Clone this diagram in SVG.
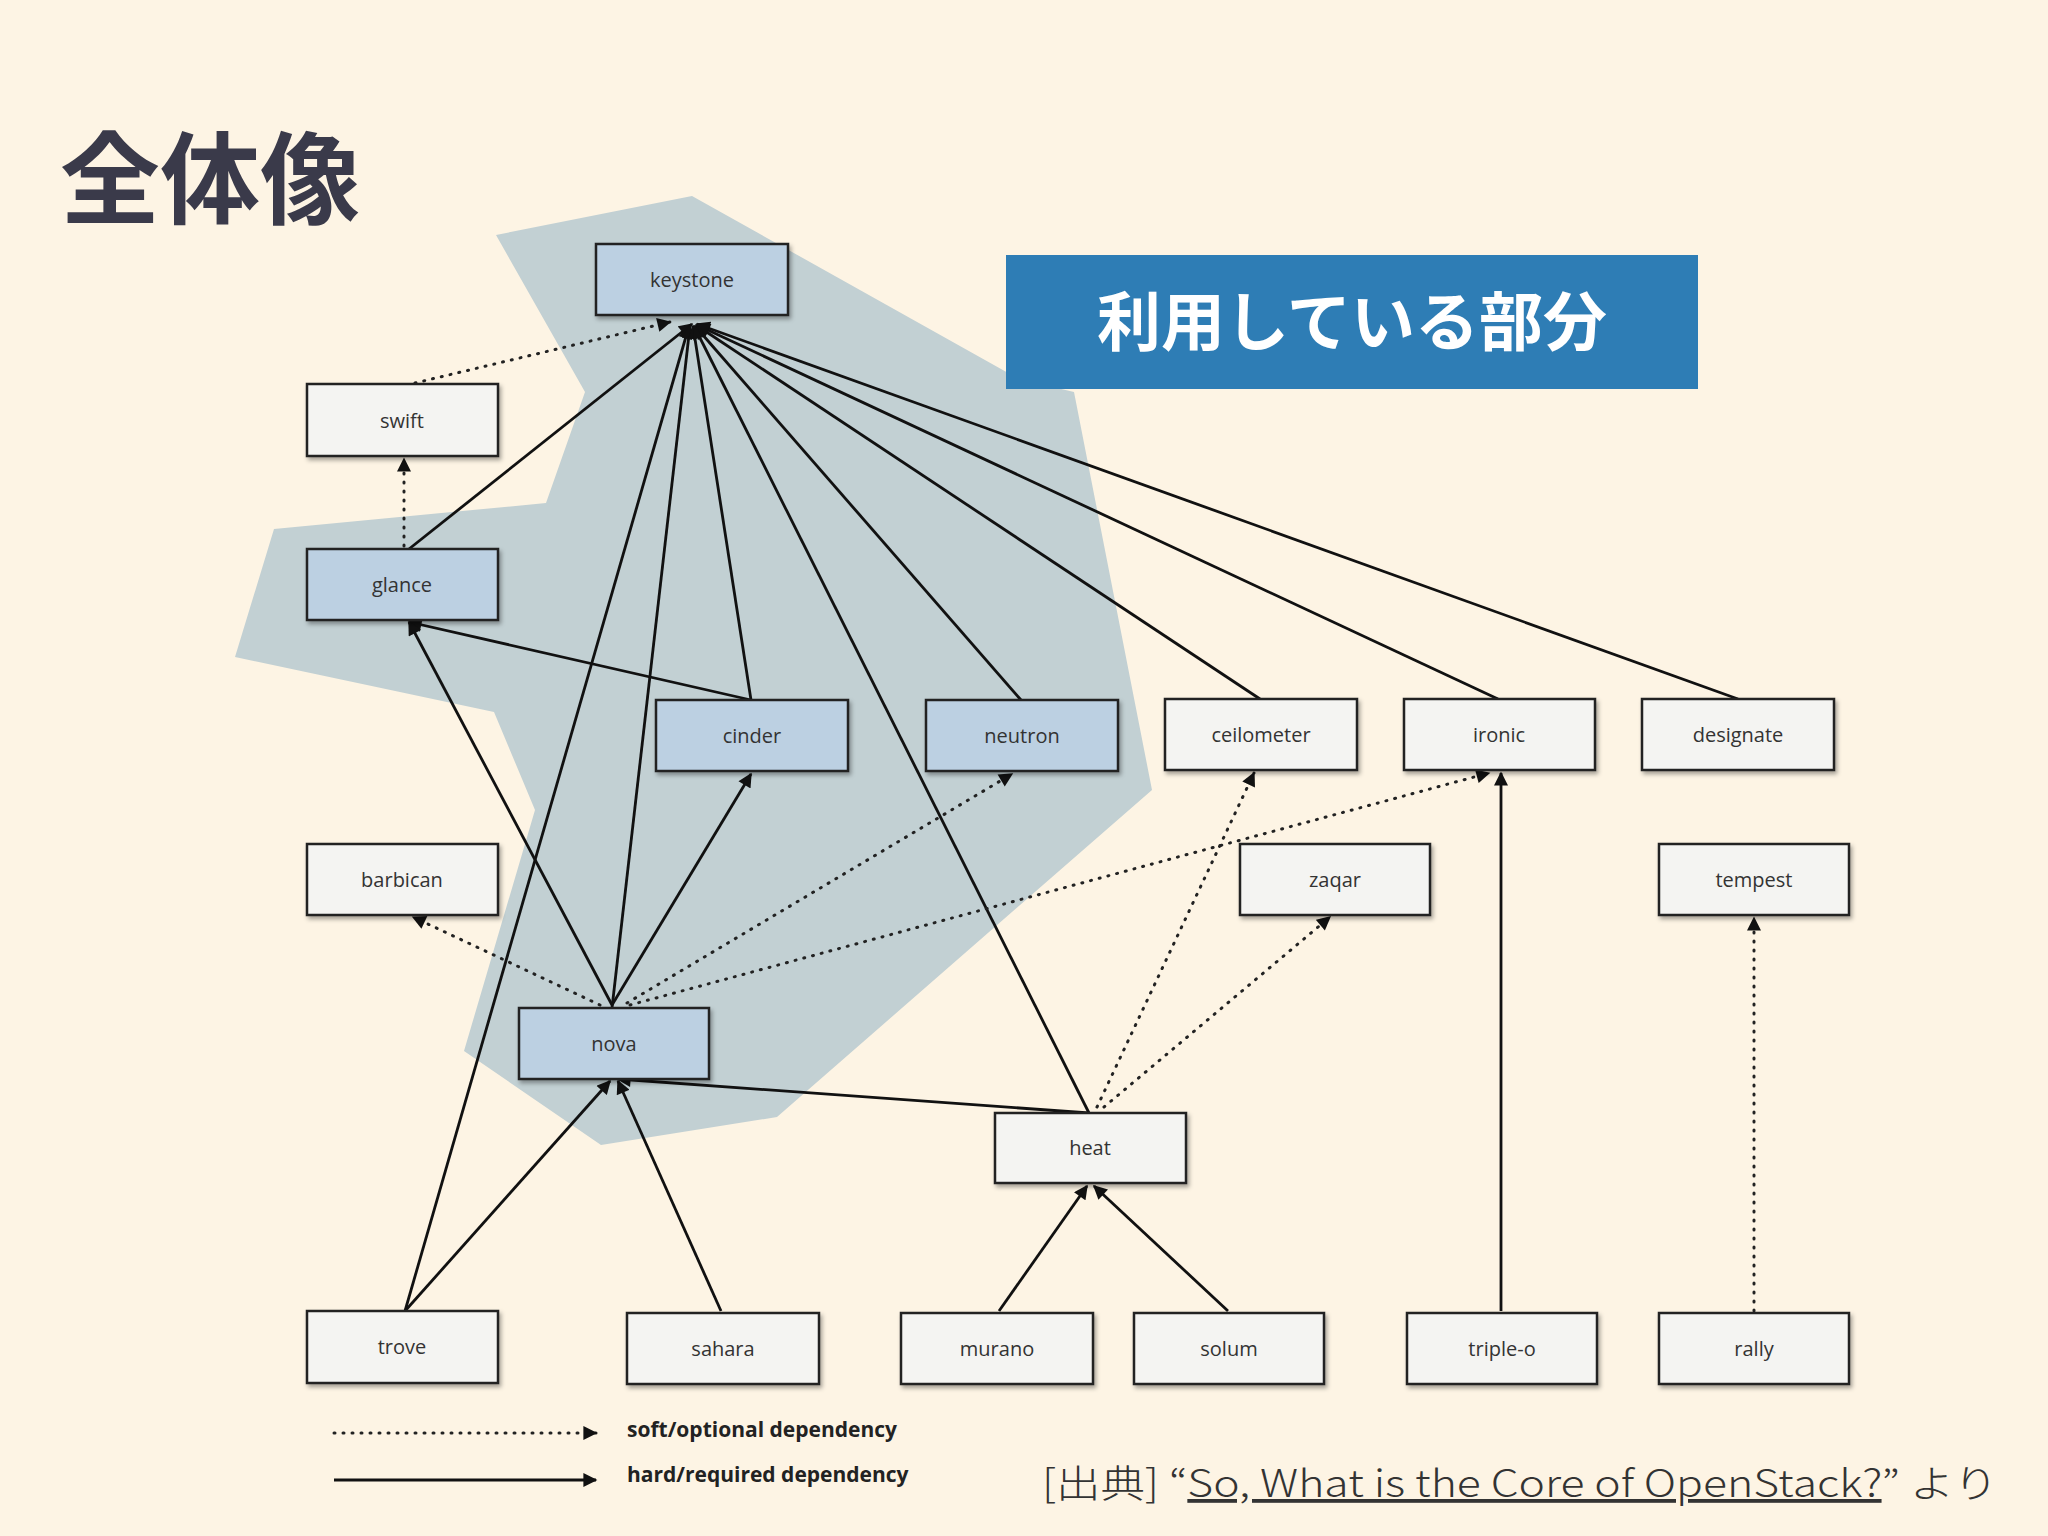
<svg xmlns="http://www.w3.org/2000/svg" width="2048" height="1536" viewBox="0 0 2048 1536">
<defs>
<marker id="ah" viewBox="0 0 10 10" refX="9" refY="5" markerWidth="15" markerHeight="14" markerUnits="userSpaceOnUse" orient="auto"><path d="M0,0 L10,5 L0,10 z" fill="#111"/></marker>
<filter id="sh" x="-10%" y="-10%" width="130%" height="140%"><feDropShadow dx="2" dy="3" stdDeviation="2" flood-opacity="0.35"/></filter>
</defs>
<style>
.n rect{fill:#f4f4f2;stroke:#222;stroke-width:2.5;filter:url(#sh)}
.n.s rect{fill:#bcd0e2}
.n text{font-family:"Open Sans","DejaVu Sans",sans-serif;font-size:20px;fill:#333;text-anchor:middle}
.h{stroke:#111;stroke-width:2.8;fill:none;marker-end:url(#ah)}
.d{stroke:#222;stroke-width:3;stroke-dasharray:1 8;stroke-linecap:round;fill:none;marker-end:url(#ah)}
</style>
<rect width="2048" height="1536" fill="#fdf4e4"/>
<polygon points="496,235 692,196 1019,379 1074,392 1152,790 777,1117 601,1145 464,1051 535,810 494,712 235,657 274,529 546,503 585,392" fill="#c2d0d3"/>
<text x="60" y="216" font-family="Noto Sans CJK JP, sans-serif" font-weight="bold" font-size="100" fill="#3a3a4a">全体像</text>
<g id="banner"><rect x="1006" y="255" width="692" height="134" fill="#2e7db5"/>
<text x="1352" y="345" text-anchor="middle" font-family="Noto Sans CJK JP, sans-serif" font-weight="bold" font-size="64" fill="#fff">利用している部分</text></g>
<g id="connectors">
<line class="h" x1="409" y1="549" x2="692" y2="324"/>
<line class="h" x1="405" y1="1311" x2="689" y2="326"/>
<line class="h" x1="612" y1="1008" x2="690" y2="326"/>
<line class="h" x1="751" y1="700" x2="693" y2="326"/>
<line class="h" x1="1021" y1="700" x2="695" y2="326"/>
<line class="h" x1="1089" y1="1113" x2="694" y2="326"/>
<line class="h" x1="1260" y1="699" x2="696" y2="325"/>
<line class="h" x1="1498" y1="699" x2="697" y2="325"/>
<line class="h" x1="1738" y1="699" x2="697" y2="324"/>
<line class="d" x1="415" y1="383" x2="670" y2="322"/>
<line class="d" x1="404" y1="546" x2="404" y2="459"/>
<line class="h" x1="751" y1="700" x2="409" y2="622"/>
<line class="h" x1="612" y1="1005" x2="409" y2="622"/>
<line class="h" x1="612" y1="1005" x2="751" y2="774"/>
<line class="d" x1="627" y1="1003" x2="1012" y2="774"/>
<line class="d" x1="630" y1="1005" x2="1489" y2="773"/>
<line class="d" x1="600" y1="1005" x2="413" y2="917"/>
<line class="h" x1="1089" y1="1113" x2="618" y2="1079"/>
<line class="h" x1="405" y1="1311" x2="610" y2="1081"/>
<line class="h" x1="721" y1="1311" x2="618" y2="1081"/>
<line class="d" x1="1097" y1="1107" x2="1254" y2="773"/>
<line class="d" x1="1104" y1="1107" x2="1330" y2="917"/>
<line class="h" x1="999" y1="1311" x2="1087" y2="1186"/>
<line class="h" x1="1228" y1="1311" x2="1094" y2="1186"/>
<line class="h" x1="1501" y1="1311" x2="1501" y2="773"/>
<line class="d" x1="1754" y1="1311" x2="1754" y2="918"/>
</g>
<g id="keystone" class="n s"><rect x="596" y="244" width="192" height="71"/><text x="692" y="287">keystone</text></g>
<g id="swift" class="n"><rect x="307" y="384" width="191" height="72"/><text x="402" y="428">swift</text></g>
<g id="glance" class="n s"><rect x="307" y="549" width="191" height="71"/><text x="402" y="592">glance</text></g>
<g id="cinder" class="n s"><rect x="656" y="700" width="192" height="71"/><text x="752" y="743">cinder</text></g>
<g id="neutron" class="n s"><rect x="926" y="700" width="192" height="71"/><text x="1022" y="743">neutron</text></g>
<g id="ceilometer" class="n"><rect x="1165" y="699" width="192" height="71"/><text x="1261" y="742">ceilometer</text></g>
<g id="ironic" class="n"><rect x="1404" y="699" width="191" height="71"/><text x="1499" y="742">ironic</text></g>
<g id="designate" class="n"><rect x="1642" y="699" width="192" height="71"/><text x="1738" y="742">designate</text></g>
<g id="barbican" class="n"><rect x="307" y="844" width="191" height="71"/><text x="402" y="887">barbican</text></g>
<g id="zaqar" class="n"><rect x="1240" y="844" width="190" height="71"/><text x="1335" y="887">zaqar</text></g>
<g id="tempest" class="n"><rect x="1659" y="844" width="190" height="71"/><text x="1754" y="887">tempest</text></g>
<g id="nova" class="n s"><rect x="519" y="1008" width="190" height="71"/><text x="614" y="1051">nova</text></g>
<g id="heat" class="n"><rect x="995" y="1113" width="191" height="70"/><text x="1090" y="1155">heat</text></g>
<g id="trove" class="n"><rect x="307" y="1311" width="191" height="72"/><text x="402" y="1354">trove</text></g>
<g id="sahara" class="n"><rect x="627" y="1313" width="192" height="71"/><text x="723" y="1356">sahara</text></g>
<g id="murano" class="n"><rect x="901" y="1313" width="192" height="71"/><text x="997" y="1356">murano</text></g>
<g id="solum" class="n"><rect x="1134" y="1313" width="190" height="71"/><text x="1229" y="1356">solum</text></g>
<g id="triple-o" class="n"><rect x="1407" y="1313" width="190" height="71"/><text x="1502" y="1356">triple-o</text></g>
<g id="rally" class="n"><rect x="1659" y="1313" width="190" height="71"/><text x="1754" y="1356">rally</text></g>
<g id="legend" font-family="Open Sans, DejaVu Sans, sans-serif" font-weight="bold" font-size="21" fill="#222">
<line class="d" x1="334" y1="1433" x2="596" y2="1433"/>
<line class="h" x1="334" y1="1480" x2="596" y2="1480"/>
<text x="627" y="1437">soft/optional dependency</text>
<text x="627" y="1482">hard/required dependency</text>
</g>
<text x="1042" y="1497" font-family="Noto Sans CJK JP, sans-serif" font-size="38" font-weight="300" fill="#333" textLength="956" lengthAdjust="spacingAndGlyphs">[出典] “<tspan text-decoration="underline">So, What is the Core of OpenStack?</tspan>” より</text>
</svg>
